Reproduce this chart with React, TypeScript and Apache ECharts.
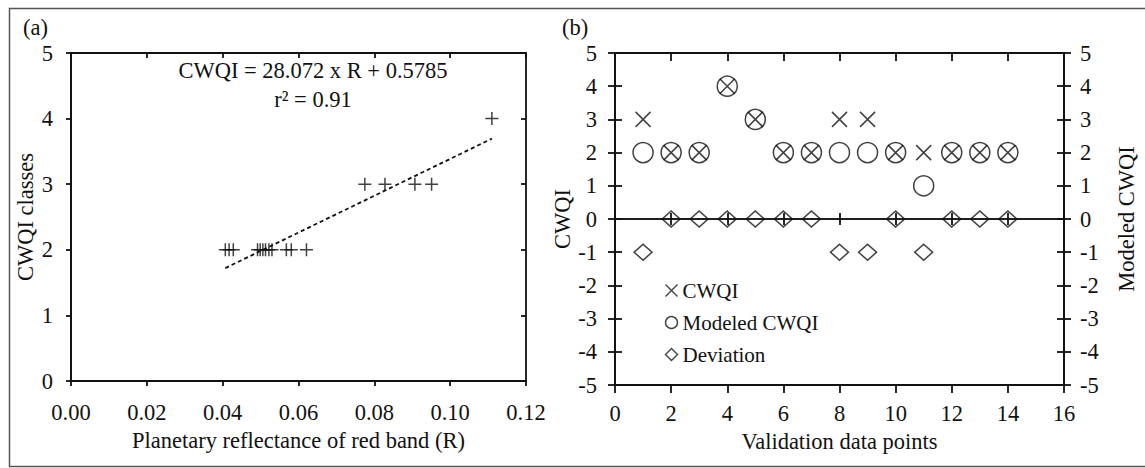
import React, { useEffect, useRef } from "react";
import * as echarts from "echarts";

// ---- Panel (a) data ----
const reflectance = [0.0407, 0.0417, 0.0428, 0.0492, 0.0499, 0.0506, 0.0513, 0.0522, 0.053, 0.0568, 0.0581, 0.0621, 0.0775, 0.0828, 0.0907, 0.0951, 0.111];
const cwqiClasses = [2, 2, 2, 2, 2, 2, 2, 2, 2, 2, 2, 2, 3, 3, 3, 3, 4];
const trendSlope = 28.072;
const trendIntercept = 0.5785;
const equationText = "CWQI = 28.072 x R + 0.5785";
const r2Text = "r² = 0.91";
const xTicksA = ["0.00", "0.02", "0.04", "0.06", "0.08", "0.10", "0.12"];

// ---- Panel (b) data ----
const validationPoints = [1, 2, 3, 4, 5, 6, 7, 8, 9, 10, 11, 12, 13, 14];
const cwqiValues = [3, 2, 2, 4, 3, 2, 2, 3, 3, 2, 2, 2, 2, 2];
const modeledValues = [2, 2, 2, 4, 3, 2, 2, 2, 2, 2, 1, 2, 2, 2];
const deviationValues = [-1, 0, 0, 0, 0, 0, 0, -1, -1, 0, -1, 0, 0, 0];

const FONT = "'Liberation Serif', 'Times New Roman', serif";
const FS = 22.5;
const BLACK = "#111";
const LW = 1.8;

export default function App() {
  const ref = useRef<HTMLDivElement>(null);
  useEffect(() => {
    if (!ref.current) return;
    const chart = echarts.init(ref.current, null, { renderer: "svg" });
    const xmin = Math.min(...reflectance);
    const xmax = Math.max(...reflectance);
    const trend = [
      [xmin, trendSlope * xmin + trendIntercept],
      [xmax, trendSlope * xmax + trendIntercept],
    ];
    const lbl = { color: BLACK, fontFamily: FONT, fontSize: FS };
    const axLine = { show: true, onZero: false, lineStyle: { color: BLACK, width: LW } };
    const noLine = { show: false, onZero: false };
    const tick = (len: number, inside: boolean) => ({ show: true, inside, length: len, lineStyle: { color: BLACK, width: LW } });
    const hidden = { show: false };
    const off = { show: false };
    const mk = { color: "none", borderColor: BLACK, borderWidth: 1.5 };

    const option: any = {
      animation: false,
      backgroundColor: "#fff",
      grid: [
        { left: 71, top: 53, width: 455, height: 328, show: true, borderColor: BLACK, borderWidth: LW, backgroundColor: "transparent" },
        { left: 615, top: 53, width: 449, height: 332, show: true, borderColor: BLACK, borderWidth: LW, backgroundColor: "transparent" },
      ],
      xAxis: [
        {
          type: "value", gridIndex: 0, min: 0, max: 0.12, interval: 0.02,
          axisLine: axLine, axisTick: tick(5, false), splitLine: off,
          axisLabel: { ...lbl, margin: 20, formatter: (v: number) => xTicksA[Math.round(v / 0.02)] ?? v.toFixed(2) },
          name: "Planetary reflectance of red band (R)", nameLocation: "middle", nameGap: 47,
          nameTextStyle: lbl,
        },
        { type: "value", gridIndex: 0, min: 0, max: 0.12, interval: 0.02, axisLine: noLine, axisTick: tick(5, true), axisLabel: hidden, splitLine: off },
        {
          type: "value", gridIndex: 1, min: 0, max: 16, interval: 2,
          axisLine: axLine, axisTick: tick(8, false), splitLine: off,
          axisLabel: { ...lbl, margin: 17 },
          name: "Validation data points", nameLocation: "middle", nameGap: 43,
          nameTextStyle: lbl,
        },
        { type: "value", gridIndex: 1, min: 0, max: 16, interval: 2, axisLine: noLine, axisTick: tick(8, true), axisLabel: hidden, splitLine: off },
        {
          type: "value", gridIndex: 1, min: 0, max: 16, interval: 2,
          axisLine: { show: true, onZero: true, onZeroAxisIndex: 2, lineStyle: { color: BLACK, width: 1.5 } },
          axisTick: tick(6, true), axisLabel: hidden, splitLine: off,
        },
        {
          type: "value", gridIndex: 1, min: 0, max: 16, interval: 2,
          axisLine: { show: true, onZero: true, onZeroAxisIndex: 2, lineStyle: { color: BLACK, width: 1.5 } },
          axisTick: tick(6, false), axisLabel: hidden, splitLine: off,
        },
      ],
      yAxis: [
        {
          type: "value", gridIndex: 0, min: 0, max: 5, interval: 1,
          axisLine: axLine, axisTick: tick(5, false), splitLine: off,
          axisLabel: { ...lbl, margin: 18 },
          name: "CWQI classes", nameLocation: "middle", nameGap: 34, nameRotate: 90,
          nameTextStyle: lbl,
        },
        { type: "value", gridIndex: 0, min: 0, max: 5, interval: 1, axisLine: noLine, axisTick: tick(5, true), axisLabel: hidden, splitLine: off },
        {
          type: "value", gridIndex: 1, position: "left", min: -5, max: 5, interval: 1,
          axisLine: axLine, axisTick: tick(7, false), splitLine: off,
          axisLabel: { ...lbl, margin: 18 },
          name: "CWQI", nameLocation: "middle", nameGap: 39, nameRotate: 90,
          nameTextStyle: lbl,
        },
        { type: "value", gridIndex: 1, position: "left", min: -5, max: 5, interval: 1, axisLine: noLine, axisTick: tick(7, true), axisLabel: hidden, splitLine: off },
        {
          type: "value", gridIndex: 1, position: "right", min: -5, max: 5, interval: 1,
          axisLine: axLine, axisTick: tick(7, false), splitLine: off,
          axisLabel: { ...lbl, margin: 16 },
          name: "Modeled CWQI", nameLocation: "middle", nameGap: 51, nameRotate: 90,
          nameTextStyle: lbl,
        },
        { type: "value", gridIndex: 1, position: "right", min: -5, max: 5, interval: 1, axisLine: noLine, axisTick: tick(7, true), axisLabel: hidden, splitLine: off },
      ],
      legend: {
        show: true,
        data: ["CWQI", "Modeled CWQI", "Deviation"],
        orient: "vertical",
        left: 658,
        top: 272,
        itemWidth: 12,
        itemHeight: 12,
        itemGap: 5,
        itemStyle: { borderWidth: 1.4 },
        textStyle: { color: BLACK, fontFamily: FONT, fontSize: 21, lineHeight: 21, padding: [6, 0, 0, 0] },
      },
      series: [
        {
          name: "Reflectance", type: "scatter", xAxisIndex: 0, yAxisIndex: 0,
          symbol: "path://M0,5L10,5M5,0L5,10", symbolSize: 13,
          itemStyle: mk,
          data: reflectance.map((x, i) => [x, cwqiClasses[i]]),
        },
        {
          name: "Trend", type: "line", xAxisIndex: 0, yAxisIndex: 0,
          showSymbol: false, symbol: "none",
          lineStyle: { color: BLACK, width: 1.8, type: [4, 3] },
          data: trend,
        },
        {
          name: "CWQI", type: "scatter", xAxisIndex: 2, yAxisIndex: 2,
          symbol: "path://M0,0L10,10M10,0L0,10", symbolSize: 15,
          itemStyle: mk,
          data: validationPoints.map((x, i) => [x, cwqiValues[i]]),
        },
        {
          name: "Modeled CWQI", type: "scatter", xAxisIndex: 2, yAxisIndex: 4,
          symbol: "circle", symbolSize: 20,
          itemStyle: mk,
          data: validationPoints.map((x, i) => [x, modeledValues[i]]),
        },
        {
          name: "Deviation", type: "scatter", xAxisIndex: 2, yAxisIndex: 2,
          symbol: "diamond", symbolSize: [18, 16],
          itemStyle: mk,
          data: validationPoints.map((x, i) => [x, deviationValues[i]]),
        },
      ],
      graphic: [
        {
          type: "rect", left: 7, top: 6, silent: true,
          shape: { x: 0, y: 0, width: 1150, height: 458 },
          style: { fill: "none", stroke: "#555", lineWidth: 1.5 },
        },
        { type: "text", left: 23, top: 16, style: { text: "(a)", fill: BLACK, font: `${FS}px ${FONT}` } },
        { type: "text", left: 562, top: 16, style: { text: "(b)", fill: BLACK, font: `${FS}px ${FONT}` } },
        {
          type: "text", x: 313, y: 70,
          style: { text: equationText, fill: BLACK, font: `${FS}px ${FONT}`, align: "center", verticalAlign: "middle" },
        },
        {
          type: "text", x: 313, y: 99,
          style: { text: r2Text, fill: BLACK, font: `${FS}px ${FONT}`, align: "center", verticalAlign: "middle" },
        },
      ],
    };
    chart.setOption(option);
    return () => chart.dispose();
  }, []);
  return <div ref={ref} style={{ position: "fixed", left: 0, top: 0, width: 1145, height: 468, background: "#fff" }} />;
}
